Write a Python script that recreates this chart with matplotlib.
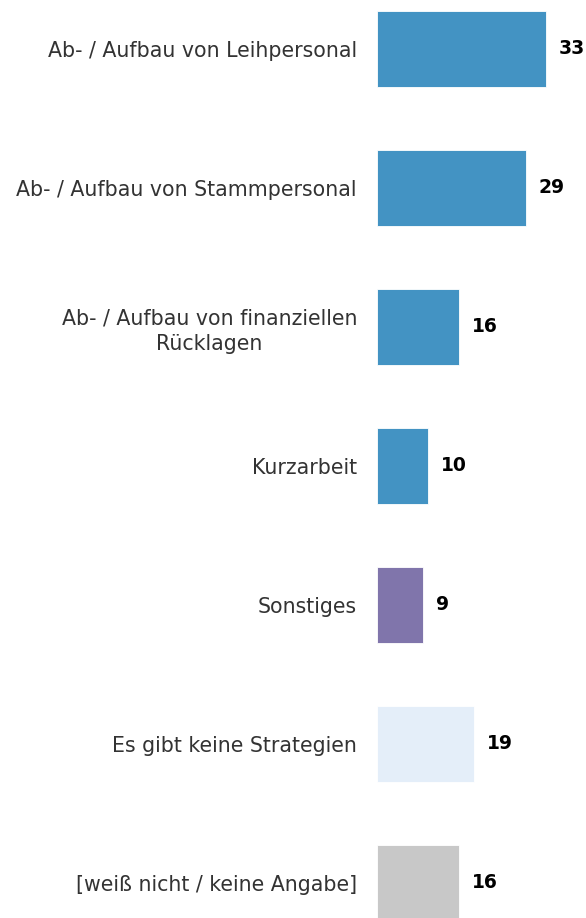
import matplotlib
matplotlib.use("Agg")
import matplotlib.pyplot as plt

categories = [
    "Ab- / Aufbau von Leihpersonal",
    "Ab- / Aufbau von Stammpersonal",
    "Ab- / Aufbau von finanziellen\nRücklagen",
    "Kurzarbeit",
    "Sonstiges",
    "Es gibt keine Strategien",
    "[weiß nicht / keine Angabe]",
]
values = [33, 29, 16, 10, 9, 19, 16]
colors = ["#4393c3", "#4393c3", "#4393c3", "#4393c3", "#8075ab", "#e4eef9", "#c8c8c8"]

W, H = 586, 918
fig = plt.figure(figsize=(W / 100, H / 100), dpi=100)
ax = fig.add_axes([377 / W, 0, (W - 377) / W, 1])

pos = list(range(len(categories)))
ax.barh(pos, values, height=0.547, color=colors, edgecolor="white", linewidth=0.6)
ax.set_xlim(0, (W - 377) / 5.13)
ax.set_ylim((H - 49) / 139, -49 / 139)

ax.set_yticks(pos)
ax.set_yticklabels(categories, fontsize=14.8, color="#333333", multialignment="center",
                   family="DejaVu Sans", linespacing=1.3)
ax.tick_params(axis="y", length=0, pad=14.4)
ax.set_xticks([])
for s in ax.spines.values():
    s.set_visible(False)

for p, v in zip(pos, values):
    ax.text(v + 2.5, p, str(v), va="center", ha="left", fontsize=13.5,
            fontweight="bold", color="#000000")

fig.savefig("out.png", dpi=100)
